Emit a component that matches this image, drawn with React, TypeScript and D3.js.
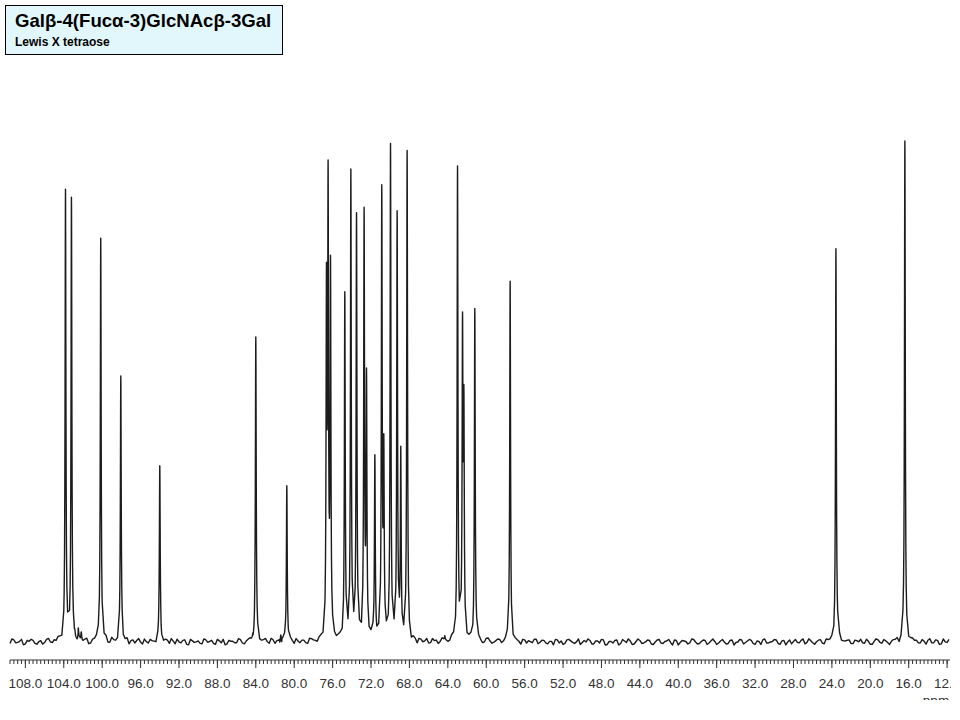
import React, { useMemo } from "react";
import * as d3 from "d3";

// 13C spectrum of Lewis X tetraose: peak positions (ppm) and heights (% of tallest)
const peakPpm = [
  103.82, 103.2, 102.85, 102.49, 102.18, 100.15, 98.06, 94.0, 84.31, 84.0,
  81.4, 80.77, 76.64, 76.47, 76.22, 74.73, 74.1, 73.51, 72.72, 72.47, 71.6,
  70.88, 70.67, 69.97, 69.28, 68.9, 68.24, 64.3, 62.99, 62.47, 62.33, 61.19,
  57.51, 23.58, 16.4,
];
const peakHeight = [
  90.1, 88.7, 3.0, 2.5, 2.0, 80.9, 52.7, 34.8, 1.5, 60.4,
  2.0, 31.4, 75.2, 95.8, 77.4, 70.2, 94.1, 86.2, 87.0, 54.6, 37.8,
  91.4, 41.2, 100, 85.6, 38.6, 97.8, 1.0, 95.4, 65.7, 51.2, 66.7,
  71.4, 78.8, 100,
];

// baseline noise read every 0.4 ppm from 110 ppm, and at the points in between
const noiseStart = 110;
const noiseStep = 0.4;
const noise = [
  0.2, -0.3, 0.4, -0.1, 0.5, -0.4, 0.1, 0.3, -0.5, 0.2, -0.2, 0.6, -0.3, 0.0, 0.4, -0.6, 0.2, 0.1, -0.4, 0.3,
  -0.1, 0.5, -0.5, 0.2, 0.3, -0.2, 0.6, -0.4, 0.1, -0.3, 0.4, 0.0, -0.6, 0.3, 0.2, -0.1, 0.5, -0.3, 0.1, -0.5,
  0.4, -0.2, 0.2, 0.6, -0.4, 0.0, 0.3, -0.5, 0.5, -0.1, 0.2, -0.4, 0.4, 0.1, -0.3, 0.5, -0.2, -0.6, 0.3, 0.1,
  -0.2, 0.4, -0.5, 0.3, 0.0, 0.5, -0.3, 0.2, -0.1, 0.6, -0.4, 0.1, 0.3, -0.2, 0.4, -0.5, 0.0, 0.2, -0.3, 0.5,
  0.1, -0.4, 0.3, -0.6, 0.4, 0.2, -0.1, 0.5, -0.3, 0.0, 0.3, -0.5, 0.6, -0.2, 0.1, 0.4, -0.4, 0.2, -0.1, 0.3,
  -0.5, 0.2, 0.5, -0.3, 0.1, -0.2, 0.4, -0.6, 0.3, 0.0, -0.4, 0.5, 0.2, -0.1, 0.3, -0.3, 0.6, -0.5, 0.1, 0.2,
  -0.3, 0.4, -0.1, 0.3, -0.5, 0.5, 0.0, -0.2, 0.4, -0.4, 0.2, 0.6, -0.3, 0.1, -0.6, 0.3, 0.2, -0.2, 0.5, -0.1,
  0.3, -0.4, 0.1, 0.5, -0.2, -0.5, 0.4, 0.2, -0.3, 0.6, -0.1, 0.0, 0.3, -0.4, 0.2, 0.5, -0.6, 0.1, -0.2, 0.4,
  -0.3, 0.2, 0.6, -0.5, 0.1, 0.3, -0.2, 0.4, -0.4, 0.0, 0.5, -0.3, 0.2, -0.1, 0.4, -0.6, 0.3, 0.1, -0.2, 0.5,
  -0.4, 0.1, 0.3, -0.2, 0.6, -0.5, 0.2, 0.0, -0.3, 0.4, -0.1, 0.5, -0.4, 0.2, 0.3, -0.5, 0.1, 0.4, -0.2, 0.0,
  0.5, -0.3, 0.2, -0.6, 0.4, 0.1, -0.1, 0.3, -0.4, 0.6, -0.2, 0.0, 0.4, -0.5, 0.2, 0.3, -0.3, 0.5, -0.1, 0.2,
  -0.4, 0.3, 0.0, -0.2, 0.5, -0.5, 0.1, 0.4, -0.3, 0.2, -0.6, 0.3, 0.5, -0.1, 0.0, -0.4, 0.4, 0.2, -0.3, 0.1,
  0.3, -0.2, 0.4, -0.5, 0.6, -0.1, 0.2, -0.3, 0.0, 0.5,
];
const noiseMid = [
  -0.4, 0.6, -0.2, 0.1, -0.6, 0.3, 0.5, -0.3, 0.0, -0.5, 0.4, -0.1, 0.2, 0.6, -0.4, 0.3, -0.2, 0.5, -0.5, 0.0,
  0.3, -0.6, 0.2, 0.4, -0.3, 0.1, -0.5, 0.6, -0.2, 0.3, -0.4, 0.5, 0.1, -0.3, 0.6, -0.5, 0.0, 0.4, -0.1, 0.2,
  -0.5, 0.3, -0.4, 0.1, 0.5, -0.2, 0.4, -0.6, 0.2, 0.0, -0.3, 0.6, -0.1, 0.3, -0.5, 0.2, 0.5, -0.4, 0.1, -0.2,
  0.6, -0.3, 0.0, 0.4, -0.5, 0.2, -0.1, 0.5, -0.4, 0.3, 0.1, -0.6, 0.4, -0.2, 0.0, 0.5, -0.3, 0.2, -0.5, 0.4,
  -0.1, 0.3, -0.5, 0.6, -0.2, 0.0, 0.4, -0.3, 0.2, -0.6, 0.5, 0.1, -0.4, 0.3, -0.1, 0.6, -0.5, 0.2, 0.4, -0.3,
  0.0, -0.4, 0.5, -0.1, 0.3, -0.6, 0.2, 0.4, -0.2, 0.5, -0.3, 0.1, -0.5, 0.6, 0.0, -0.2, 0.3, -0.4, 0.5, -0.1,
  0.2, -0.5, 0.4, 0.0, -0.3, 0.6, -0.4, 0.1, 0.3, -0.2, 0.5, -0.6, 0.2, -0.1, 0.4, -0.3, 0.0, 0.5, -0.4, 0.3,
  -0.2, 0.1, -0.6, 0.4, 0.2, -0.3, 0.5, -0.1, 0.0, -0.5, 0.3, 0.6, -0.4, 0.2, -0.2, 0.4, -0.5, 0.1, 0.3, -0.6,
  0.5, -0.1, 0.2, -0.4, 0.6, -0.3, 0.0, 0.3, -0.5, 0.4, -0.2, 0.1, 0.5, -0.6, 0.3, -0.1, 0.2, -0.4, 0.6, 0.0,
  -0.3, 0.4, -0.5, 0.2, 0.1, -0.2, 0.5, -0.4, 0.3, -0.6, 0.0, 0.4, -0.1, 0.5, -0.3, 0.2, -0.5, 0.6, -0.2, 0.1,
  0.4, -0.5, 0.3, 0.0, -0.4, 0.5, -0.2, 0.6, -0.1, 0.2, -0.5, 0.3, -0.3, 0.4, 0.1, -0.6, 0.5, -0.2, 0.0, 0.3,
  -0.4, 0.2, 0.5, -0.3, 0.1, -0.5, 0.6, -0.1, 0.4, -0.2, 0.0, 0.3, -0.6, 0.5, -0.4, 0.2, 0.1, -0.3, 0.4, -0.5,
  0.6, -0.2, 0.3, -0.4, 0.0, 0.5, -0.1, 0.2, -0.3, 0.4,
];

const majorTicks = d3.range(27).map((k) => 108 - k * 4).filter((v) => v >= 12);
const titleText = "Galβ-4(Fucα-3)GlcNAcβ-3Gal";
const subtitleText = "Lewis X tetraose";

const width = 960;
const height = 720;
const halfWidth = 0.05; // lorentzian half width, ppm
const ppmLeft = 109.6;
const ppmRight = 11.7;

const App: React.FC = () => {
  const x = d3.scaleLinear().domain([ppmLeft, ppmRight]).range([10, 950]);
  const y = d3.scaleLinear().domain([0, 100]).range([642, 141]);

  const linePath = useMemo(() => {
    const lor = (d: number) => (halfWidth * halfWidth) / (halfWidth * halfWidth + d * d);
    // correct the heights so the summed curve reaches the read heights
    let h = peakHeight.slice();
    for (let it = 0; it < 4; it++) {
      h = peakHeight.map((t, i) => {
        let s = 0;
        peakPpm.forEach((p, j) => {
          if (j !== i) s += h[j] * lor(peakPpm[i] - p);
        });
        return Math.max(t - s, 0.2);
      });
    }
    const half = noiseStep / 2;
    const noiseAt = (p: number) => {
      const k = Math.round((noiseStart - p) / half);
      return (k % 2 === 0 ? noise[k / 2] : noiseMid[(k - 1) / 2]) ?? 0;
    };
    const signal = (p: number) => {
      let s = 0;
      peakPpm.forEach((c, j) => (s += h[j] * lor(p - c)));
      return s;
    };

    const pts: number[] = [];
    for (let k = 0; ; k++) {
      const p = noiseStart - k * half;
      if (p < ppmRight) break;
      if (p <= ppmLeft) pts.push(p);
    }
    const offsets = [0, 0.008, 0.016, 0.025, 0.035, 0.05, 0.07, 0.1, 0.14];
    peakPpm.forEach((c) => offsets.forEach((o) => {
      pts.push(c + o);
      if (o) pts.push(c - o);
    }));
    pts.sort((a, b) => b - a);

    const line = d3
      .line<number>()
      .x((p) => x(p))
      .y((p) => y(signal(p) + noiseAt(p)));
    return line(pts) ?? "";
  }, []);

  const minorTicks: number[] = [];
  for (let k = 0; ; k++) {
    const v = ppmLeft - k * 0.4;
    if (v < ppmRight) break;
    minorTicks.push(v);
  }

  const axisY = 660;

  return (
    <svg
      width={width}
      height={height}
      style={{ position: "absolute", left: 0, top: 0, background: "#fff" }}
      fontFamily="'Liberation Sans', Arial, sans-serif"
    >
      <defs>
        <clipPath id="cutBottom">
          <rect x={0} y={0} width={width} height={700} />
        </clipPath>
        <clipPath id="cutRight">
          <rect x={0} y={0} width={951} height={height} />
        </clipPath>
      </defs>

      {/* title box */}
      <rect x={5.5} y={5.5} width={277} height={49} fill="#e2f7fb" stroke="#000" strokeWidth={1} />
      <text x={15} y={27} fontSize={18.6} fontWeight="bold" fill="#000">
        {titleText}
      </text>
      <text x={15} y={46} fontSize={12} fontWeight="bold" fill="#000">
        {subtitleText}
      </text>

      {/* spectrum */}
      <path d={linePath} fill="none" stroke="#1c1c1c" strokeWidth={1.4} strokeLinejoin="round" />

      {/* ppm axis */}
      <g stroke="#333" strokeWidth={1}>
        <line x1={10} x2={950} y1={axisY} y2={axisY} />
        {minorTicks.map((v, i) => (
          <line key={"m" + i} x1={x(v)} x2={x(v)} y1={axisY} y2={axisY + 4} />
        ))}
        {majorTicks.map((v) => (
          <line key={"M" + v} x1={x(v)} x2={x(v)} y1={axisY} y2={axisY + 8} />
        ))}
      </g>
      <g fontSize={13.5} fill="#333" textAnchor="middle" clipPath="url(#cutRight)">
        {majorTicks.map((v) => (
          <text key={"t" + v} x={x(v)} y={688}>
            {d3.format(".1f")(v)}
          </text>
        ))}
      </g>
      <text x={936} y={705} fontSize={13.5} fill="#333" textAnchor="middle" clipPath="url(#cutBottom)">
        ppm
      </text>
    </svg>
  );
};

export default App;
